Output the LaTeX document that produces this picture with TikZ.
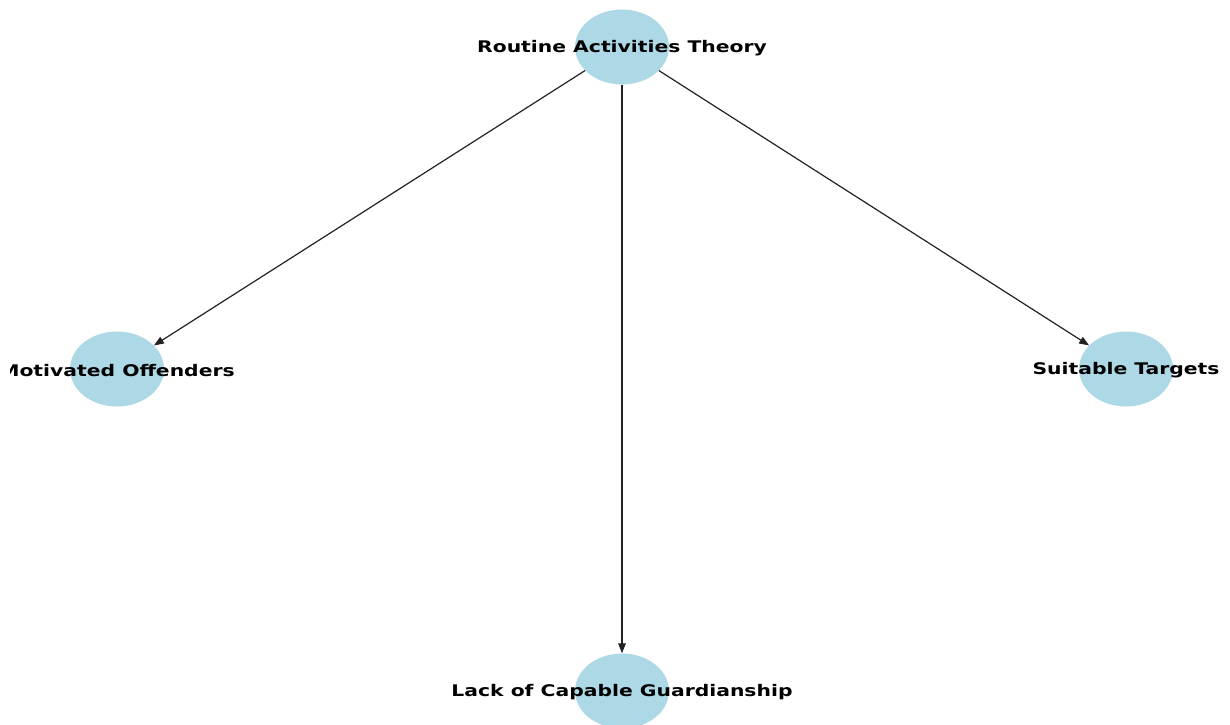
\documentclass[tikz,border=0pt]{standalone}
\usepackage{fontspec}
\setmainfont{DejaVu Sans}
\usepackage{xcolor}
\usepackage{tikz}
\usetikzlibrary{shapes.geometric,arrows.meta,positioning,calc}
\definecolor{nodeBlue}{HTML}{ADD8E6}
\definecolor{edgeGray}{HTML}{222222}

\begin{document}
\begin{tikzpicture}[
  x=1pt,y=-1pt,
  font=\fontsize{16}{19}\selectfont\bfseries,
  every node/.style={align=center},
  theory/.style={ellipse,fill=nodeBlue,minimum width=94pt,minimum height=75pt,inner sep=0pt},
  tag/.style={inner sep=0pt,xscale=1.27,yshift=-1.5pt},
  edge/.style={line width=1.2pt,edgeGray,-{Triangle[length=10pt,width=7.5pt]}}
]
\useasboundingbox (0,0) rectangle (1230,724);
\clip (10,0) rectangle (1230,724);

% Nodes
\node[theory] (rat) at (622,47) {};
\node[theory] (mot) at (117,369) {};
\node[theory] (sui) at (1126,369) {};
\node[theory] (lac) at (622,691) {};

% Labels
\node[tag] at (rat) {Routine Activities Theory};
\node[tag] at (mot) {Motivated Offenders};
\node[tag] at (sui) {Suitable Targets};
\node[tag] at (lac) {Lack of Capable Guardianship};

% Edges
\draw[edge] (rat) -- (mot);
\draw[edge] (rat) -- (sui);
\draw[edge] (rat) -- (lac);
\end{tikzpicture}
\end{document}
